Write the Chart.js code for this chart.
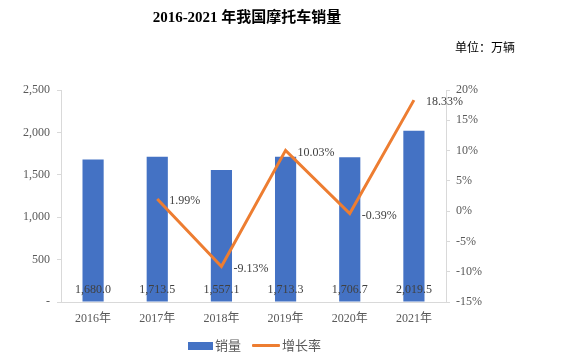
<!DOCTYPE html>
<html>
<head>
<meta charset="utf-8">
<script src="https://cdn.jsdelivr.net/npm/chart.js@4"></script>
<style>
  html, body { margin: 0; padding: 0; background: #ffffff; }
  #wrap { position: relative; width: 564px; height: 362px; overflow: hidden; }
  canvas { position: absolute; left: 0; top: 0; }
  .title { position: absolute; left: 0; width: 494px; top: 6px; text-align: center;
    font-family: "Liberation Serif", "Noto Sans CJK SC", serif; font-weight: bold; font-size: 15px; color: #000; line-height: 22px; }
  .unit { position: absolute; left: 455px; top: 40px; font-family: "Liberation Serif", "Noto Sans CJK SC", serif;
    font-size: 12px; color: #000; line-height: 16px; white-space: nowrap; }
  .legend { position: absolute; top: 338px; left: 188px; height: 16px; font-family: "Liberation Serif", "Noto Sans CJK SC", serif;
    font-size: 13px; color: #595959; white-space: nowrap; }
  .legend span { position: absolute; top: 0; line-height: 16px; }
  .sw-bar { position: absolute; left: 0; top: 4px; width: 25px; height: 8px; background: #4472C4; }
  .sw-line { position: absolute; left: 64px; top: 6px; width: 28px; height: 3px; background: #ED7D31; border-radius: 1px; }
</style>
</head>
<body>
<div id="wrap">
  <canvas id="c" width="564" height="362"></canvas>
  <div class="title">2016-2021 年我国摩托车销量</div>
  <div class="unit">单位：万辆</div>
  <div class="legend">
    <div class="sw-bar"></div><span style="left:27px">销量</span>
    <div class="sw-line"></div><span style="left:94px">增长率</span>
  </div>
</div>
<script>
const categories = ['2016年', '2017年', '2018年', '2019年', '2020年', '2021年'];
const salesValues = [1680.0, 1713.5, 1557.1, 1713.3, 1706.7, 2019.5];
const growthValues = [null, 1.99, -9.13, 10.03, -0.39, 18.33];
const salesLabel = '销量';
const growthLabel = '增长率';

const SERIF = '"Liberation Serif", "Noto Sans CJK SC", serif';

const labelPlugin = {
  id: 'valueLabels',
  afterDatasetsDraw(chart) {
    const ctx = chart.ctx;
    ctx.save();
    ctx.font = '12px ' + SERIF;
    ctx.fillStyle = '#404040';
    ctx.textBaseline = 'middle';
    const barMeta = chart.getDatasetMeta(0);
    const yBase = chart.scales.y.getPixelForValue(0);
    barMeta.data.forEach((el, i) => {
      ctx.textAlign = 'center';
      ctx.fillText(salesValues[i].toLocaleString('en-US', {minimumFractionDigits: 1, maximumFractionDigits: 1}), el.x, yBase - 12);
    });
    const lineMeta = chart.getDatasetMeta(1);
    lineMeta.data.forEach((el, i) => {
      const v = growthValues[i];
      if (v === null || v === undefined) return;
      ctx.textAlign = 'left';
      ctx.fillText(v.toFixed(2) + '%', el.x + 12, el.y + 2);
    });
    ctx.restore();
  }
};

new Chart(document.getElementById('c'), {
  data: {
    labels: categories,
    datasets: [
      {
        type: 'bar', label: salesLabel, data: salesValues, yAxisID: 'y',
        backgroundColor: '#4472C4', barPercentage: 0.33, categoryPercentage: 1, order: 2
      },
      {
        type: 'line', label: growthLabel, data: growthValues, yAxisID: 'y1',
        borderColor: '#ED7D31', borderWidth: 3, pointRadius: 0, tension: 0, order: 1,
        borderJoinStyle: 'miter'
      }
    ]
  },
  options: {
    responsive: false,
    animation: false,
    devicePixelRatio: 1,
    layout: { padding: { left: 0, right: 0, top: 90, bottom: 30 } },
    plugins: { legend: { display: false }, tooltip: { enabled: false }, title: { display: false } },
    scales: {
      x: {
        grid: { display: false, drawTicks: false },
        border: { color: '#D9D9D9', width: 1 },
        ticks: { color: '#595959', font: { family: SERIF, size: 12 }, padding: 10 },
        afterFit(s) { s.height = 30; }
      },
      y: {
        position: 'left', min: 0, max: 2500,
        grid: { drawOnChartArea: false, drawTicks: true, tickLength: 4, color: '#D9D9D9' },
        border: { color: '#D9D9D9', width: 1 },
        ticks: {
          stepSize: 500, color: '#595959', font: { family: SERIF, size: 12 }, padding: 7,
          callback: v => v === 0 ? '-' : v.toLocaleString('en-US')
        },
        afterFit(s) { s.width = 61; }
      },
      y1: {
        position: 'right', min: -15, max: 20,
        grid: { drawOnChartArea: false, drawTicks: true, tickLength: 4, color: '#D9D9D9' },
        border: { color: '#D9D9D9', width: 1 },
        ticks: {
          stepSize: 5, color: '#595959', font: { family: SERIF, size: 12 }, padding: 6,
          callback: v => v + '%'
        },
        afterFit(s) { s.width = 118; }
      }
    }
  },
  plugins: [labelPlugin]
});
</script>
</body>
</html>
